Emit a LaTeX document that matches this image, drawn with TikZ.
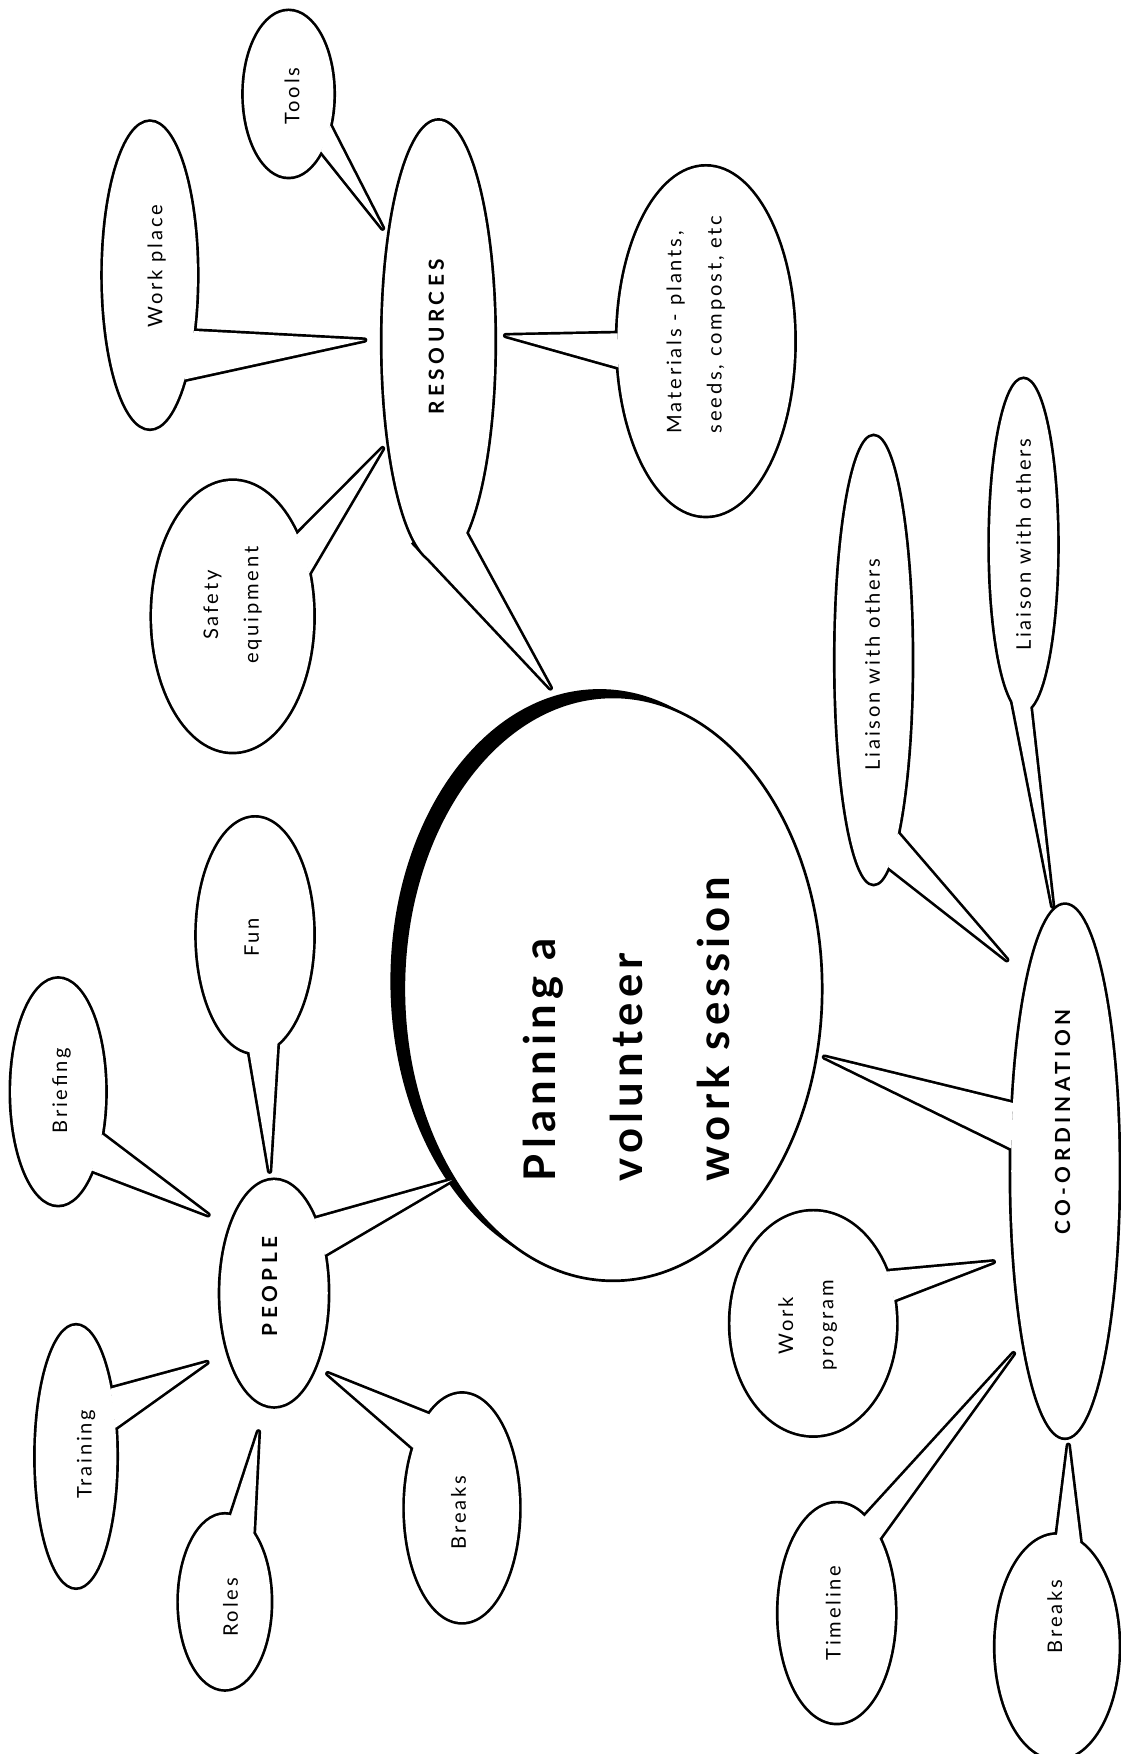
\documentclass[tikz,border=0pt]{standalone}
\usepackage{fontspec}
\usetikzlibrary{shapes.geometric,calc}
\newfontfamily\notefont[LetterSpace=14]{Lato}
\newfontfamily\hubfont[LetterSpace=22]{Lato}
\newfontfamily\titlefont[LetterSpace=12]{Lato}

% A speech bubble with a tail.
% #1 name, #2 centre, #3 width, #4 height,
% #5 and #6 points fixing where the tail leaves the outline, #7 tip.
% Outline and tail are stroked at double width, then the inside is
% filled white again, so only the outer half of each stroke remains.
\newcommand\bubble[7]{%
  \node[bubbleline, minimum width=#3, minimum height=#4] (#1) at (#2) {};
  \path (#5) -- (#1) coordinate[pos=1] (#1-a);
  \path (#6) -- (#1) coordinate[pos=1] (#1-b);
  \draw[tailline] ($(#1-a)!-5pt!(#7)$) -- (#7) -- ($(#1-b)!-5pt!(#7)$);
  \node[bubblefill, minimum width=#3, minimum height=#4] (#1-inner) at (#2) {};
  \fill[white] (#1-a) -- (#7) -- (#1-b) -- cycle;
}

\begin{document}
\begin{tikzpicture}[x=0.5pt, y=-0.5pt,
  bubbleline/.style={ellipse, draw=black, line width=2.4pt, inner sep=0pt, outer sep=0pt},
  bubblefill/.style={ellipse, fill=white, inner sep=0pt, outer sep=0pt},
  tailline/.style={line width=2.4pt, line join=round},
  note/.style={rotate=90, inner sep=0pt, align=center, font=\notefont\fontsize{9}{18}\selectfont},
  hubtext/.style={rotate=90, inner sep=0pt, font=\hubfont\bfseries\fontsize{9.3}{11}\selectfont},
  titletext/.style={rotate=90, inner sep=0pt, align=left, font=\titlefont\bfseries\fontsize{19.5}{39}\selectfont},
]
\useasboundingbox (0,0) rectangle (1002,1568);
\fill[white] (0,0) rectangle (1002,1568);
\clip (0,0) rectangle (1002,1568);

% ---- central topic -------------------------------------------------------
\node[ellipse, fill=black, inner sep=0pt, minimum width=187pt, minimum height=261pt] (Cshade) at (536,877) {};
\node[ellipse, draw=black, fill=white, line width=1.2pt, inner sep=0pt, outer sep=0pt,
      minimum width=187pt, minimum height=261pt] (C) at (548,884) {};

% ---- tips of the tails ----------------------------------------------------
\coordinate (tipRC) at (492,615);
\coordinate (tipPC) at (404,1055);
\coordinate (tipCoC) at (737,945);
\coordinate (tipT) at (342,204);
\coordinate (tipW) at (326,304);
\coordinate (tipS) at (342,401);
\coordinate (tipM) at (452,300);
\coordinate (tipF) at (241,1047);
\coordinate (tipB) at (186,1086);
\coordinate (tipTr) at (185,1218);
\coordinate (tipRo) at (231,1280);
\coordinate (tipBp) at (293,1228);
\coordinate (tipL1) at (900,858);
\coordinate (tipL2) at (941,810);
\coordinate (tipWp) at (888,1128);
\coordinate (tipTi) at (906,1210);
\coordinate (tipBc) at (955,1292);

% ---- the three branches ---------------------------------------------------
\bubble{R}{392,305}{50pt}{197pt}{377,480}{416,472}{tipRC}
\bubble{P}{245,1156}{48pt}{101pt}{282,1088}{290,1122}{tipPC}
\bubble{Co}{952,1047}{48pt}{238pt}{901,980}{900,1025}{tipCoC}

% ---- resources --------------------------------------------------------------
\bubble{T}{258,84}{40pt}{74pt}{295,112}{288,137}{tipT}
\bubble{W}{134,246}{42pt}{137pt}{174,297}{165,340}{tipW}
\bubble{S}{208,551}{72pt}{121pt}{263,481}{274,514}{tipS}
\bubble{M}{631,305}{79pt}{156pt}{552,298}{554,328}{tipM}

% ---- people -------------------------------------------------------------------
\bubble{F}{228,836}{52pt}{105pt}{223,940}{248,933}{tipF}
\bubble{B}{52,976}{42pt}{101pt}{91,1014}{82,1046}{tipB}
\bubble{Tr}{68,1302}{36pt}{117pt}{97,1245}{101,1278}{tipTr}
\bubble{Ro}{201,1432}{41pt}{78pt}{206,1362}{224,1377}{tipRo}
\bubble{Bp}{413,1348}{51pt}{102pt}{384,1265}{370,1295}{tipBp}

% ---- co-ordination ------------------------------------------------------------
\bubble{L1}{781,590}{34pt}{200pt}{803,748}{794,776}{tipL1}
\bubble{L2}{915,487}{30pt}{148pt}{905,628}{921,632}{tipL2}
\bubble{Wp}{727,1183}{74pt}{100pt}{795,1135}{800,1162}{tipWp}
\bubble{Ti}{748,1442}{52pt}{98pt}{773,1355}{787,1374}{tipTi}
\bubble{Bc}{945,1472}{55pt}{100pt}{945,1372}{966,1378}{tipBc}

% ---- texts ------------------------------------------------------------------------
\node[titletext] (Ctext) at (560,920) {Planning a\\volunteer\\work session};
\node[hubtext] (Rtext) at (390,301) {RESOURCES};
\node[hubtext] (Ptext) at (241,1150) {PEOPLE};
\node[hubtext] (Cotext) at (950,1003) {CO-ORDINATION};
\node[note] (Ttext) at (261,86) {Tools};
\node[note] (Wtext) at (140,238) {Work place};
\node[note] (Stext) at (208,541) {Safety\\equipment};
\node[note, align=left] (Mtext) at (622,290) {Materials - plants,\\seeds, compost, etc};
\node[note] (Ftext) at (225,838) {Fun};
\node[note] (Btext) at (55,975) {Briefing};
\node[note] (Trtext) at (77,1300) {Training};
\node[note] (Rotext) at (206,1437) {Roles};
\node[note] (Bptext) at (410,1352) {Breaks};
\node[note] (L1text) at (780,594) {Liaison with others};
\node[note] (L2text) at (915,487) {Liaison with others};
\node[note] (Wptext) at (722,1185) {Work\\program};
\node[note] (Titext) at (745,1442) {Timeline};
\node[note] (Bctext) at (943,1445) {Breaks};
\end{tikzpicture}
\end{document}
